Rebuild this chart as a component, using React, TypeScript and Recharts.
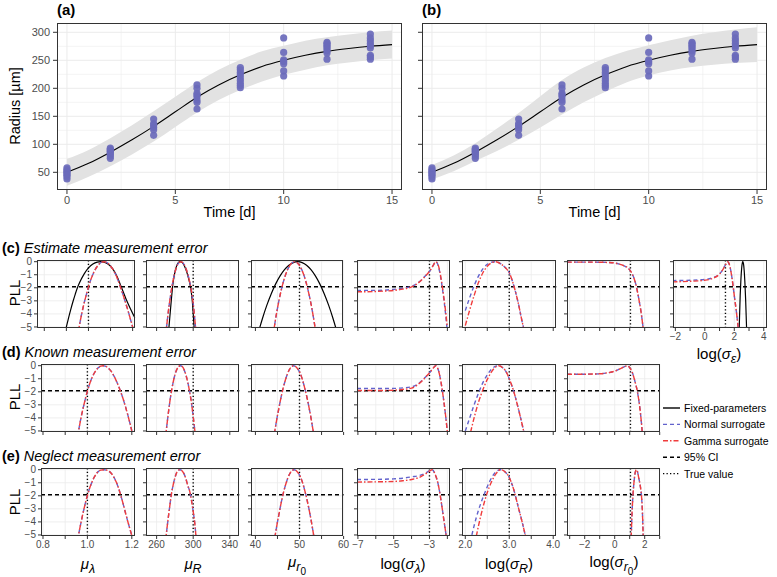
import React from "react";
import {
  ComposedChart,
  LineChart,
  Line,
  Area,
  Scatter,
  XAxis,
  YAxis,
  CartesianGrid,
  ReferenceLine,
} from "recharts";

const FONT = "'Liberation Sans', Arial, Helvetica, sans-serif";
const RED = "#f03c3c";
const BLUE = "#6262cc";
const POINT = "#6a6abb";
const TICK = "#4d4d4d";
const GRID = "#ebebeb";

// ---------- growth data, panels (a) and (b)
const fitTime = [0, 1, 2, 3, 4, 5, 6, 7, 8, 9, 10, 11, 12, 13, 14, 15];
const fitRadius = [50, 66, 86, 108, 132, 158, 184, 206, 224, 239, 250, 259, 266, 271, 275, 278];
const bandLowA = [26, 42, 61, 82, 105, 131, 157, 179, 197, 212, 224, 233, 241, 246, 250, 253];
const bandHighA = [74, 90, 111, 134, 159, 185, 211, 233, 251, 266, 276, 285, 291, 296, 300, 303];
const bandLowB = [37, 52, 70, 88, 108, 130, 153, 175, 194, 211, 223, 232, 238, 242, 245, 247];
const bandHighB = [63, 80, 102, 128, 156, 186, 215, 237, 254, 267, 277, 286, 294, 300, 305, 309];

const obsTime = [0, 2, 4, 6, 8, 10, 12, 14];
const obsRadius = [
  [38, 42, 45, 47, 50, 52, 55, 58],
  [75, 79, 82, 85, 87, 89, 91, 93],
  [116, 126, 130, 134, 137, 145],
  [163, 175, 179, 185, 188, 191, 200, 206],
  [201, 205, 209, 214, 219, 224, 228, 233, 237],
  [222, 231, 244, 248, 251, 264, 290],
  [252, 263, 267, 271, 274, 277, 280, 282],
  [252, 256, 259, 272, 276, 280, 285, 290, 297],
];
const growthTicksX = [0, 5, 10, 15];
const growthTicksY = [50, 100, 150, 200, 250, 300];

// ---------- profile likelihood axes
const pllTicks = [0, -1, -2, -3, -4, -5];
const pllLabels = ["0", "−1", "−2", "−3", "−4", "−5"];
const ciLevel = -1.92;

const muLTicks = [0.8, 0.9, 1.0, 1.1, 1.2];
const muLLabels = ["0.8", "", "1.0", "", "1.2"];
const muRTicks = [260, 280, 300, 320, 340];
const muRLabels = ["260", "", "300", "", "340"];
const muR0Ticks = [40, 45, 50, 55, 60];
const muR0Labels = ["40", "", "50", "", "60"];
const sLTicks = [-7, -6, -5, -4, -3, -2];
const sLLabels = ["−7", "", "−5", "", "−3", ""];
const sRTicks = [2, 2.5, 3, 3.5, 4];
const sRLabels = ["2.0", "", "3.0", "", "4.0"];
const sR0Ticks = [-3, -2, -1, 0, 1, 2, 3];
const sR0Labels = ["", "−2", "", "0", "", "2", ""];
const sETicks = [-2, -1, 0, 1, 2, 3, 4];
const sELabels = ["−2", "", "0", "", "2", "", "4"];
const trueValues = [1.0, 300, 50, -3, 3.0, 1.05, 1.4];

type Pt = [number, number];

// ---------- (c) estimate measurement error
const estMuLFixed: Pt[] = [[0.895, -5.4], [0.9, -5.0], [0.91, -4.3], [0.92, -3.65], [0.93, -3.05], [0.94, -2.5], [0.95, -2.0], [0.96, -1.6], [0.98, -0.95], [1.0, -0.48], [1.02, -0.18], [1.04, -0.03], [1.055, 0], [1.07, -0.03], [1.09, -0.2], [1.11, -0.55], [1.13, -1.15], [1.15, -2.0], [1.17, -2.85], [1.19, -3.6], [1.21, -4.3]];
const estMuLGamma: Pt[] = [[0.955, -5.3], [0.96, -4.8], [0.97, -3.95], [0.98, -3.2], [0.99, -2.55], [1.0, -1.93], [1.01, -1.4], [1.02, -0.98], [1.03, -0.62], [1.04, -0.35], [1.05, -0.15], [1.06, -0.04], [1.07, 0], [1.08, -0.04], [1.09, -0.15], [1.1, -0.33], [1.11, -0.57], [1.12, -0.87], [1.13, -1.25], [1.14, -1.7], [1.15, -2.2], [1.16, -2.7], [1.17, -3.25], [1.18, -3.8], [1.19, -4.4], [1.2, -5.0], [1.205, -5.3]];
const estMuRFixed: Pt[] = [[273, -5.4], [274, -4.6], [276, -3.0], [278, -1.6], [280, -0.8], [282, -0.3], [284, -0.05], [285.5, 0], [287, -0.03], [289, -0.15], [291, -0.42], [293, -0.8], [295, -1.3], [297, -1.92], [299, -3.0], [301, -5.0], [302, -6.0]];
const estMuRGamma: Pt[] = [[270, -5.6], [272, -4.3], [274, -3.2], [276, -2.25], [278, -1.45], [280, -0.83], [282, -0.38], [284, -0.1], [286.5, 0], [288, -0.04], [290, -0.2], [292, -0.5], [294, -0.93], [296, -1.5], [298, -2.2], [300, -3.2], [302, -4.6], [303, -5.4]];
const estMuR0Fixed: Pt[] = [[40.6, -5.5], [41.6, -4.35], [42.6, -3.33], [43.6, -2.45], [44.6, -1.7], [45.6, -1.09], [46.6, -0.61], [47.6, -0.27], [48.6, -0.07], [49.6, 0], [50.6, -0.07], [51.6, -0.27], [52.6, -0.61], [53.6, -1.09], [54.6, -1.7], [55.6, -2.45], [56.6, -3.33], [57.6, -4.35], [58.6, -5.5]];
const estMuR0Gamma: Pt[] = [[43.9, -5.9], [44.4, -4.76], [44.9, -3.76], [45.4, -2.88], [45.9, -2.12], [46.4, -1.47], [46.9, -0.94], [47.4, -0.53], [47.9, -0.24], [48.4, -0.06], [48.9, 0], [49.4, -0.06], [49.9, -0.24], [50.4, -0.53], [50.9, -0.94], [51.4, -1.47], [51.9, -2.12], [52.4, -2.88], [52.9, -3.76], [53.4, -4.76], [53.9, -5.9]];
const estSLGamma: Pt[] = [[-7.05, -2.3], [-6.5, -2.3], [-6, -2.28], [-5.5, -2.25], [-5, -2.2], [-4.5, -2.1], [-4, -1.93], [-3.7, -1.7], [-3.4, -1.35], [-3.2, -1.05], [-3.0, -0.75], [-2.8, -0.3], [-2.65, 0], [-2.5, -0.3], [-2.35, -1.3], [-2.2, -2.7], [-2.1, -3.8], [-2.0, -5.1]];
const estSLNormal: Pt[] = [[-7.05, -2.2], [-6, -2.2], [-5, -2.12], [-4.5, -2.03], [-4, -1.88], [-3.7, -1.67], [-3.4, -1.33], [-3.2, -1.04], [-3.0, -0.74], [-2.8, -0.3], [-2.65, 0], [-2.5, -0.35], [-2.35, -1.4], [-2.2, -2.85], [-2.1, -4.0], [-2.02, -5.1]];
const estSRGamma: Pt[] = [[2.0, -4.9], [2.1, -3.7], [2.2, -2.6], [2.3, -1.6], [2.4, -0.85], [2.5, -0.35], [2.6, -0.08], [2.7, 0], [2.8, -0.15], [2.9, -0.42], [3.0, -0.85], [3.1, -1.8], [3.2, -3.1], [3.3, -4.7], [3.35, -5.4]];
const estSRNormal: Pt[] = [[2.0, -3.75], [2.1, -2.75], [2.2, -1.85], [2.3, -1.1], [2.4, -0.55], [2.5, -0.2], [2.6, -0.03], [2.7, 0], [2.8, -0.15], [2.9, -0.42], [3.0, -0.85], [3.1, -1.8], [3.2, -3.1], [3.3, -4.7], [3.35, -5.4]];
const estSR0Gamma: Pt[] = [[-3.18, -0.03], [-2, -0.03], [-1, -0.04], [-0.5, -0.06], [0, -0.1], [0.3, -0.18], [0.6, -0.3], [0.9, -0.5], [1.1, -0.8], [1.3, -1.3], [1.45, -1.92], [1.6, -2.8], [1.75, -3.8], [1.9, -5.1]];
const estSEFixed: Pt[] = [[2.33, -5.2], [2.4, -2.6], [2.45, -1.35], [2.5, -0.5], [2.55, -0.07], [2.58, 0], [2.62, -0.13], [2.67, -0.65], [2.72, -1.6], [2.77, -2.9], [2.82, -4.6], [2.84, -5.3]];
const estSEGamma: Pt[] = [[-2.2, -1.55], [-1, -1.5], [0, -1.42], [0.6, -1.25], [1.0, -0.95], [1.2, -0.65], [1.4, -0.25], [1.55, 0], [1.7, -0.35], [1.85, -1.3], [2.0, -2.6], [2.15, -3.9], [2.28, -5.2]];
const estSENormal: Pt[] = [[-2.2, -1.45], [-1, -1.42], [0, -1.36], [0.6, -1.2], [1.0, -0.93], [1.2, -0.64], [1.4, -0.25], [1.55, 0], [1.7, -0.35], [1.85, -1.3], [2.0, -2.6], [2.15, -3.9], [2.28, -5.2]];

// ---------- (d) known measurement error
const knownMuLGamma: Pt[] = [[0.955, -5.4], [0.96, -5.0], [0.97, -4.1], [0.98, -3.3], [0.99, -2.6], [1.0, -1.95], [1.01, -1.4], [1.02, -0.95], [1.03, -0.6], [1.04, -0.33], [1.05, -0.14], [1.06, -0.03], [1.07, 0], [1.08, -0.03], [1.09, -0.12], [1.1, -0.28], [1.11, -0.5], [1.12, -0.8], [1.13, -1.15], [1.14, -1.55], [1.15, -2.0], [1.16, -2.5], [1.17, -3.05], [1.18, -3.65], [1.19, -4.3], [1.2, -5.0]];
const knownMuRGamma: Pt[] = [[270, -5.3], [272, -4.1], [274, -3.0], [276, -2.05], [278, -1.3], [280, -0.7], [282, -0.3], [284, -0.07], [286, 0], [288, -0.07], [290, -0.3], [292, -0.7], [294, -1.25], [296, -1.95], [298, -2.8], [300, -3.9], [302, -5.1]];
const knownMuR0Gamma: Pt[] = [[44.3, -5.2], [44.8, -4.2], [45.3, -3.3], [45.8, -2.45], [46.3, -1.7], [46.8, -1.1], [47.3, -0.6], [47.8, -0.25], [48.3, -0.05], [48.6, 0], [49.1, -0.06], [49.6, -0.25], [50.1, -0.55], [50.6, -1.0], [51.1, -1.6], [51.6, -2.3], [52.1, -3.1], [52.6, -4.0], [53.1, -5.0], [53.3, -5.4]];
const knownSLGamma: Pt[] = [[-7.05, -1.9], [-6, -1.9], [-5, -1.88], [-4.5, -1.82], [-4, -1.72], [-3.7, -1.5], [-3.4, -1.15], [-3.2, -0.85], [-3.0, -0.55], [-2.8, -0.2], [-2.65, 0], [-2.5, -0.35], [-2.35, -1.3], [-2.2, -2.7], [-2.1, -3.8], [-2.0, -5.1]];
const knownSLNormal: Pt[] = [[-7.05, -1.75], [-6, -1.75], [-5, -1.74], [-4.5, -1.7], [-4, -1.62], [-3.7, -1.45], [-3.4, -1.12], [-3.2, -0.84], [-3.0, -0.55], [-2.8, -0.2], [-2.65, 0], [-2.5, -0.35], [-2.35, -1.3], [-2.2, -2.7], [-2.1, -3.8], [-2.0, -5.1]];
const knownSRGamma: Pt[] = [[2.12, -5.1], [2.2, -4.0], [2.3, -2.8], [2.4, -1.85], [2.5, -1.05], [2.6, -0.45], [2.7, -0.08], [2.76, 0], [2.85, -0.15], [2.95, -0.6], [3.0, -1.0], [3.1, -1.95], [3.2, -3.2], [3.3, -4.6], [3.34, -5.2]];
const knownSRNormal: Pt[] = [[2.0, -5.0], [2.1, -4.0], [2.2, -3.0], [2.3, -2.1], [2.4, -1.3], [2.5, -0.7], [2.6, -0.25], [2.7, -0.03], [2.76, 0], [2.85, -0.15], [2.95, -0.6], [3.0, -1.0], [3.1, -1.95], [3.2, -3.2], [3.3, -4.6], [3.34, -5.2]];
const knownSR0Gamma: Pt[] = [[-3.18, -0.65], [-2, -0.65], [-1, -0.62], [-0.5, -0.55], [0, -0.42], [0.4, -0.22], [0.7, -0.05], [0.85, 0], [1.0, -0.15], [1.2, -0.6], [1.35, -1.2], [1.5, -1.9], [1.65, -3.0], [1.8, -4.6], [1.85, -5.3]];

// ---------- (e) neglect measurement error
const neglectMuLGamma: Pt[] = [[0.955, -5.4], [0.96, -5.0], [0.97, -4.15], [0.98, -3.35], [0.99, -2.62], [1.0, -1.98], [1.01, -1.42], [1.02, -0.97], [1.03, -0.6], [1.04, -0.32], [1.05, -0.13], [1.06, -0.03], [1.075, 0], [1.09, -0.05], [1.1, -0.15], [1.11, -0.33], [1.12, -0.6], [1.13, -0.95], [1.14, -1.4], [1.15, -1.95], [1.16, -2.55], [1.17, -3.2], [1.18, -3.85], [1.19, -4.45], [1.2, -5.05]];
const neglectMuRGamma: Pt[] = [[270, -5.3], [272, -4.1], [274, -3.0], [276, -1.95], [278, -1.2], [280, -0.62], [282, -0.22], [284, -0.03], [285.5, 0], [288, -0.1], [290, -0.32], [292, -0.7], [294, -1.2], [296, -1.6], [298, -2.3], [300, -3.2], [302, -4.3], [303, -5.1]];
const neglectMuR0Gamma: Pt[] = [[44.4, -5.2], [44.9, -4.2], [45.4, -3.3], [45.9, -2.45], [46.4, -1.7], [46.9, -1.1], [47.4, -0.6], [47.9, -0.25], [48.4, -0.05], [48.7, 0], [49.2, -0.06], [49.7, -0.25], [50.2, -0.55], [50.7, -1.0], [51.2, -1.6], [51.7, -2.3], [52.2, -3.1], [52.7, -4.0], [53.2, -5.0], [53.4, -5.4]];
const neglectSLGamma: Pt[] = [[-7.05, -0.95], [-6, -0.93], [-5, -0.9], [-4.5, -0.85], [-4, -0.75], [-3.5, -0.55], [-3.2, -0.3], [-3.0, -0.1], [-2.85, 0], [-2.7, -0.3], [-2.5, -1.2], [-2.35, -2.4], [-2.2, -3.8], [-2.05, -5.2]];
const neglectSLNormal: Pt[] = [[-7.05, -0.75], [-6, -0.74], [-5, -0.7], [-4.5, -0.65], [-4, -0.55], [-3.5, -0.42], [-3.2, -0.25], [-3.0, -0.08], [-2.85, 0], [-2.7, -0.3], [-2.5, -1.2], [-2.35, -2.4], [-2.2, -3.8], [-2.05, -5.2]];
const neglectSRGamma: Pt[] = [[2.25, -5.1], [2.3, -4.3], [2.4, -2.9], [2.5, -1.75], [2.6, -0.9], [2.7, -0.3], [2.8, 0], [2.9, -0.15], [3.0, -0.6], [3.1, -1.5], [3.2, -2.8], [3.3, -4.1], [3.37, -5.1]];
const neglectSRNormal: Pt[] = [[2.15, -5.0], [2.2, -4.3], [2.3, -3.1], [2.4, -2.15], [2.5, -1.3], [2.6, -0.6], [2.7, -0.15], [2.8, 0], [2.9, -0.15], [3.0, -0.6], [3.1, -1.5], [3.2, -2.8], [3.3, -4.1], [3.37, -5.1]];
const neglectSR0Gamma: Pt[] = [[1.1, -5.2], [1.15, -3.5], [1.22, -1.92], [1.3, -0.8], [1.37, -0.2], [1.45, 0], [1.52, -0.15], [1.6, -0.6], [1.7, -1.2], [1.78, -1.92], [1.85, -3.3], [1.9, -5.1]];

// ---------- layout
const PLL_DOMAIN = [-5.08, 0.13];
const PANEL_H = 68;
const COLS = [
  { ticks: muLTicks, labels: muLLabels, domain: [0.791, 1.213] },
  { ticks: muRTicks, labels: muRLabels, domain: [248.4, 350.4] },
  { ticks: muR0Ticks, labels: muR0Labels, domain: [39.0, 60.0] },
  { ticks: sLTicks, labels: sLLabels, domain: [-7.05, -1.87] },
  { ticks: sRTicks, labels: sRLabels, domain: [1.925, 4.07] },
  { ticks: sR0Ticks, labels: sR0Labels, domain: [-3.18, 3.0] },
  { ticks: sETicks, labels: sELabels, domain: [-2.16, 4.22] },
];
const COL_X = [[41.3, 135], [146, 239.3], [250.7, 343.3], [357.3, 450], [461.7, 556], [567.3, 660], [672.7, 766.7]];

type Kind = "fixed" | "normal" | "gamma";
const LINE_STYLE: Record<Kind, { stroke: string; dash?: string; width: number }> = {
  fixed: { stroke: "#000", width: 1.2 },
  normal: { stroke: BLUE, dash: "4 3", width: 1.4 },
  gamma: { stroke: RED, dash: "5 2 1.5 2", width: 1.4 },
};

interface PanelProps {
  col: number;
  left: number;
  top: number;
  domain?: number[];
  showX: boolean;
  series: { pts: Pt[]; kind: Kind }[];
}

function Panel({ col, left, top, domain, showX, series }: PanelProps) {
  const L = 36, T = 4, R = 12, B = 24;
  const ax = COLS[col];
  const right = COL_X[col][1];
  const w = right - left;
  const showY = col === 0;
  return (
    <div style={{ position: "absolute", left: left - L, top: top - T, width: w + L + R, height: PANEL_H + T + B }}>
      <LineChart width={w + L + R} height={PANEL_H + T + B} margin={{ top: T, right: R, bottom: 0, left: 0 }}>
        <CartesianGrid stroke={GRID} strokeWidth={0.8} verticalValues={ax.ticks} horizontalValues={pllTicks} />
        <XAxis
          type="number"
          dataKey="x"
          domain={domain || ax.domain}
          ticks={ax.ticks}
          interval={0}
          allowDataOverflow
          height={B}
          tickSize={3}
          tickMargin={2}
          axisLine={false}
          tickLine={{ stroke: "#333" }}
          tick={{ fontSize: 10, fill: TICK, fontFamily: FONT }}
          tickFormatter={(v: number) => (showX ? ax.labels[ax.ticks.indexOf(v)] : "")}
        />
        <YAxis
          type="number"
          domain={PLL_DOMAIN}
          ticks={pllTicks}
          interval={0}
          allowDataOverflow
          width={L}
          tickSize={3}
          tickMargin={2}
          axisLine={false}
          tickLine={{ stroke: "#333" }}
          tick={{ fontSize: 10, fill: TICK, fontFamily: FONT }}
          tickFormatter={(v: number) => (showY ? pllLabels[pllTicks.indexOf(v)] : "")}
        />
        <ReferenceLine y={ciLevel} stroke="#000" strokeWidth={1.3} strokeDasharray="4 3" />
        <ReferenceLine x={trueValues[col]} stroke="#000" strokeWidth={1.4} strokeDasharray="1.3 2.2" />
        {series.map((s, i) => (
          <Line
            key={i}
            data={s.pts.map(([x, y]) => ({ x, y }))}
            dataKey="y"
            type="monotone"
            dot={false}
            activeDot={false}
            stroke={LINE_STYLE[s.kind].stroke}
            strokeWidth={LINE_STYLE[s.kind].width}
            strokeDasharray={LINE_STYLE[s.kind].dash}
            isAnimationActive={false}
          />
        ))}
      </LineChart>
      <div style={{ position: "absolute", left: L, top: T, width: w, height: PANEL_H, border: "1px solid #333", boxSizing: "border-box", pointerEvents: "none" }} />
    </div>
  );
}

function Growth({ plotLeft, low, high, showY, title }: { plotLeft: number; low: number[]; high: number[]; showY: boolean; title: string }) {
  const table = fitTime.map((t, i) => ({ t, fit: fitRadius[i], band: [low[i], high[i]] }));
  const pts = obsTime.flatMap((t, i) => obsRadius[i].map((r) => ({ t, r })));
  return (
    <div style={{ position: "absolute", left: plotLeft - 40, top: 18, width: 390, height: 202 }}>
      <ComposedChart width={390} height={202} data={table} margin={{ top: 5, right: 5, bottom: 0, left: 0 }}>
        <CartesianGrid stroke={GRID} strokeWidth={0.6} verticalValues={[2.5, 7.5, 12.5]} horizontalValues={[75, 125, 175, 225, 275]} />
        <CartesianGrid stroke={GRID} strokeWidth={1} verticalValues={growthTicksX} horizontalValues={growthTicksY} />
        <XAxis
          type="number"
          dataKey="t"
          domain={[-0.46, 15.46]}
          ticks={growthTicksX}
          allowDataOverflow
          height={30}
          tickSize={4}
          tickMargin={2}
          axisLine={false}
          tickLine={{ stroke: "#333" }}
          tick={{ fontSize: 11, fill: TICK, fontFamily: FONT }}
        />
        <YAxis
          type="number"
          domain={[18.4, 316.6]}
          ticks={growthTicksY}
          allowDataOverflow
          width={40}
          tickSize={4}
          tickMargin={3}
          axisLine={false}
          tickLine={{ stroke: "#333" }}
          tick={{ fontSize: 11, fill: TICK, fontFamily: FONT }}
          tickFormatter={(v: number) => (showY ? String(v) : "")}
        />
        <Area dataKey="band" type="monotone" stroke="none" fill="#e2e2e2" fillOpacity={1} isAnimationActive={false} activeDot={false} />
        <Line dataKey="fit" type="monotone" stroke="#000" strokeWidth={1.1} dot={false} activeDot={false} isAnimationActive={false} />
        <Scatter
          data={pts}
          dataKey="r"
          isAnimationActive={false}
          shape={(p: any) => <circle cx={p.cx} cy={p.cy} r={3.6} fill={POINT} fillOpacity={0.92} />}
        />
      </ComposedChart>
      <div style={{ position: "absolute", left: 40, top: 5, width: 345, height: 167, border: "1px solid #333", boxSizing: "border-box" }} />
      <div style={{ position: "absolute", left: 40, top: -18, height: 20, lineHeight: "20px", fontWeight: "bold", fontSize: 15 }}>{title}</div>
      <div style={{ position: "absolute", left: 40, width: 345, top: 186, textAlign: "center", fontSize: 14.5 }}>Time [d]</div>
    </div>
  );
}

function VLabel({ cx, cy, children, size = 14 }: { cx: number; cy: number; children: React.ReactNode; size?: number }) {
  return (
    <div style={{ position: "absolute", left: cx, top: cy, transform: "translate(-50%, -50%) rotate(-90deg)", whiteSpace: "nowrap", fontSize: size }}>
      {children}
    </div>
  );
}

function HLabel({ cx, cy, children }: { cx: number; cy: number; children: React.ReactNode }) {
  return (
    <div style={{ position: "absolute", left: cx, top: cy, transform: "translate(-50%, -50%)", whiteSpace: "nowrap", fontSize: 15 }}>
      {children}
    </div>
  );
}

function RowTitle({ y, tag, text }: { y: number; tag: string; text: string }) {
  return (
    <div style={{ position: "absolute", left: 2, top: y - 9, whiteSpace: "nowrap", fontSize: 14.5, lineHeight: "18px" }}>
      <b>{tag}</b> <i>{text}</i>
    </div>
  );
}

const legendItems: { label: string; color: string; dash?: string }[] = [
  { label: "Fixed-parameters", color: "#000" },
  { label: "Normal surrogate", color: BLUE, dash: "4 3" },
  { label: "Gamma surrogate", color: RED, dash: "5 2 1.5 2" },
  { label: "95% CI", color: "#000", dash: "4 3" },
  { label: "True value", color: "#000", dash: "1.3 2.2" },
];

function Legend() {
  return (
    <svg style={{ position: "absolute", left: 660, top: 398 }} width={117} height={86}>
      {legendItems.map((it, i) => (
        <g key={it.label} transform={`translate(0, ${10 + i * 16.4})`}>
          <line x1={3} x2={20} y1={0} y2={0} stroke={it.color} strokeWidth={1.4} strokeDasharray={it.dash} />
          <text x={24} y={4} fontSize={10.5} fontFamily={FONT} fill="#000">{it.label}</text>
        </g>
      ))}
    </svg>
  );
}

const MuL = () => (<><i>μ</i><sub><i>λ</i></sub></>);
const MuR = () => (<><i>μ</i><sub><i>R</i></sub></>);
const MuR0 = () => (<><i>μ</i><sub><i>r</i><sub style={{ fontSize: "80%" }}>0</sub></sub></>);
const LogS = ({ s }: { s: React.ReactNode }) => (<>log(<i>σ</i><sub>{s}</sub>)</>);

export default function App() {
  const rowTops = [259.5, 363.5, 467.7];
  const rowEst = [
    [{ pts: estMuLFixed, kind: "fixed" }, { pts: estMuLGamma, kind: "normal" }, { pts: estMuLGamma, kind: "gamma" }],
    [{ pts: estMuRFixed, kind: "fixed" }, { pts: estMuRGamma, kind: "normal" }, { pts: estMuRGamma, kind: "gamma" }],
    [{ pts: estMuR0Fixed, kind: "fixed" }, { pts: estMuR0Gamma, kind: "normal" }, { pts: estMuR0Gamma, kind: "gamma" }],
    [{ pts: estSLNormal, kind: "normal" }, { pts: estSLGamma, kind: "gamma" }],
    [{ pts: estSRNormal, kind: "normal" }, { pts: estSRGamma, kind: "gamma" }],
    [{ pts: estSR0Gamma, kind: "normal" }, { pts: estSR0Gamma, kind: "gamma" }],
    [{ pts: estSEFixed, kind: "fixed" }, { pts: estSENormal, kind: "normal" }, { pts: estSEGamma, kind: "gamma" }],
  ] as PanelProps["series"][];
  const rowKnown = [
    [{ pts: knownMuLGamma, kind: "normal" }, { pts: knownMuLGamma, kind: "gamma" }],
    [{ pts: knownMuRGamma, kind: "normal" }, { pts: knownMuRGamma, kind: "gamma" }],
    [{ pts: knownMuR0Gamma, kind: "normal" }, { pts: knownMuR0Gamma, kind: "gamma" }],
    [{ pts: knownSLNormal, kind: "normal" }, { pts: knownSLGamma, kind: "gamma" }],
    [{ pts: knownSRNormal, kind: "normal" }, { pts: knownSRGamma, kind: "gamma" }],
    [{ pts: knownSR0Gamma, kind: "normal" }, { pts: knownSR0Gamma, kind: "gamma" }],
  ] as PanelProps["series"][];
  const rowNeglect = [
    [{ pts: neglectMuLGamma, kind: "normal" }, { pts: neglectMuLGamma, kind: "gamma" }],
    [{ pts: neglectMuRGamma, kind: "normal" }, { pts: neglectMuRGamma, kind: "gamma" }],
    [{ pts: neglectMuR0Gamma, kind: "normal" }, { pts: neglectMuR0Gamma, kind: "gamma" }],
    [{ pts: neglectSLNormal, kind: "normal" }, { pts: neglectSLGamma, kind: "gamma" }],
    [{ pts: neglectSRNormal, kind: "normal" }, { pts: neglectSRGamma, kind: "gamma" }],
    [{ pts: neglectSR0Gamma, kind: "normal" }, { pts: neglectSR0Gamma, kind: "gamma" }],
  ] as PanelProps["series"][];

  return (
    <div style={{ position: "absolute", left: 0, top: 0, width: 777, height: 577, background: "#fff", fontFamily: FONT, color: "#000", overflow: "hidden" }}>
      <Growth plotLeft={57} low={bandLowA} high={bandHighA} showY title="(a)" />
      <Growth plotLeft={422} low={bandLowB} high={bandHighB} showY={false} title="(b)" />
      <VLabel cx={15} cy={106} size={14.5}>Radius [µm]</VLabel>

      <RowTitle y={248} tag="(c)" text="Estimate measurement error" />
      <RowTitle y={352} tag="(d)" text="Known measurement error" />
      <RowTitle y={456} tag="(e)" text="Neglect measurement error" />

      {rowEst.map((s, c) => (
        <Panel
          key={"c" + c}
          col={c}
          left={c === 0 ? 36.5 : COL_X[c][0]}
          domain={c === 0 ? [0.767, 1.213] : undefined}
          top={rowTops[0]}
          showX={c === 6}
          series={s}
        />
      ))}
      {rowKnown.map((s, c) => (
        <Panel key={"d" + c} col={c} left={COL_X[c][0]} top={rowTops[1]} showX={false} series={s} />
      ))}
      {rowNeglect.map((s, c) => (
        <Panel key={"e" + c} col={c} left={COL_X[c][0]} top={rowTops[2]} showX series={s} />
      ))}

      <VLabel cx={14} cy={293} size={15}>PLL</VLabel>
      <VLabel cx={14} cy={397} size={15}>PLL</VLabel>
      <VLabel cx={14} cy={502} size={15}>PLL</VLabel>

      <HLabel cx={719} cy={355}><LogS s={<i>ε</i>} /></HLabel>
      <HLabel cx={88} cy={565}><MuL /></HLabel>
      <HLabel cx={193} cy={565}><MuR /></HLabel>
      <HLabel cx={297} cy={565}><MuR0 /></HLabel>
      <HLabel cx={403} cy={565}><LogS s={<i>λ</i>} /></HLabel>
      <HLabel cx={509} cy={565}><LogS s={<i>R</i>} /></HLabel>
      <HLabel cx={614} cy={565}><LogS s={<><i>r</i><sub style={{ fontSize: "80%" }}>0</sub></>} /></HLabel>

      <Legend />
    </div>
  );
}
